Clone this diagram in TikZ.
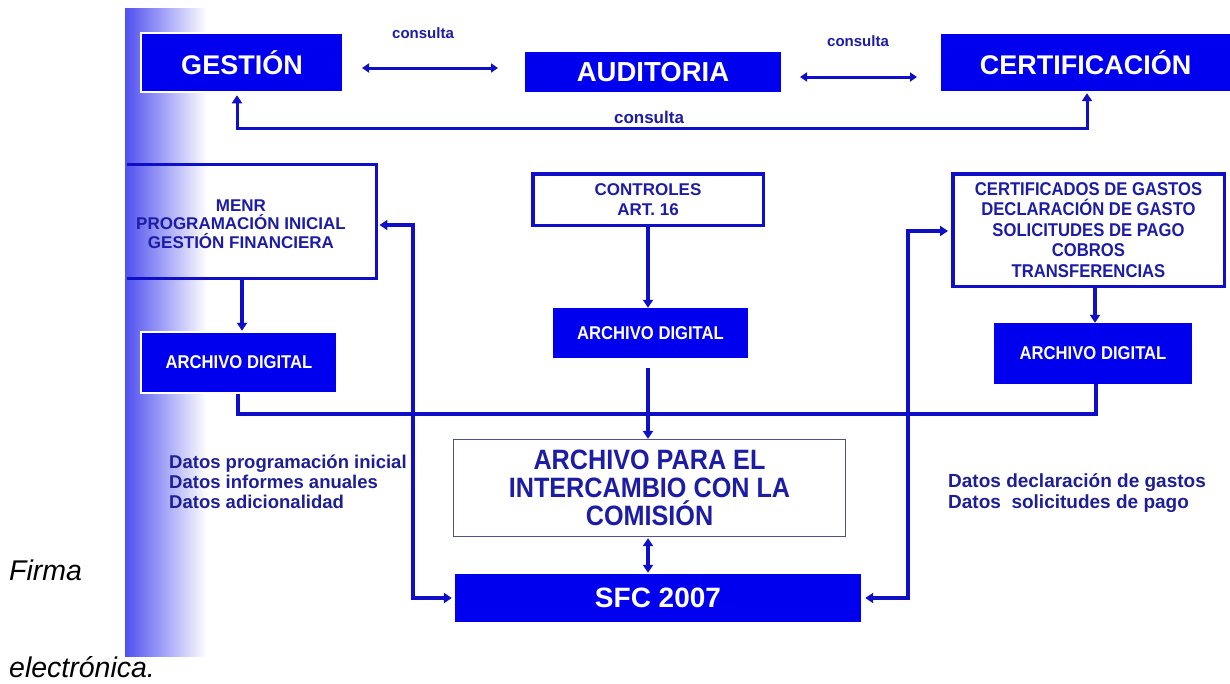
\documentclass[tikz,border=0pt]{standalone}
\usepackage{fontspec}
\setmainfont{Liberation Sans}
\newfontfamily\nsf[FakeStretch=0.9]{Liberation Sans}
\usetikzlibrary{arrows.meta,calc}
\definecolor{boxblue}{RGB}{0,0,238}
\definecolor{lineblue}{RGB}{15,15,200}
\definecolor{txtblue}{RGB}{28,28,165}
\definecolor{datblue}{RGB}{30,30,150}
\definecolor{stripblue}{RGB}{80,80,240}
\definecolor{thinframe}{RGB}{80,80,140}
\begin{document}
\begin{tikzpicture}[x=1pt,y=-1pt,
  bluebox/.style={fill=boxblue,draw=none,text=white,inner sep=0pt},
  framed/.style={draw=white,line width=2.5pt},
  whitebox/.style={fill=white,draw=lineblue,line width=3.5pt,text=txtblue,inner sep=0pt,align=center},
  conn/.style={draw=lineblue,line width=3.5pt,-{Triangle[length=8pt,width=10pt]}},
  dconn/.style={draw=lineblue,line width=3.5pt,{Triangle[length=8pt,width=10pt]}-{Triangle[length=8pt,width=10pt]}},
  tconn/.style={draw=lineblue,line width=3pt,{Triangle[length=7pt,width=9pt]}-{Triangle[length=7pt,width=9pt]}},
  bus/.style={draw=lineblue,line width=3.5pt},
  lbl/.style={text=txtblue,font=\bfseries\fontsize{15}{18}\selectfont,inner sep=0pt},
  datos/.style={text=datblue,font=\bfseries\fontsize{18.5}{20}\selectfont,inner sep=0pt,anchor=base west},
  firma/.style={anchor=base west,inner sep=0pt,font=\itshape\fontsize{28.5}{32}\selectfont}
]
\useasboundingbox (0,0) rectangle (1230,683);
\fill[white] (0,0) rectangle (1230,683);
% gradient strip
\shade[left color=stripblue,right color=white] (125,8) rectangle (207,656);

% top row
\node[bluebox,framed,minimum width=202pt,minimum height=59pt,font=\bfseries\fontsize{27}{30}\selectfont] (ges) at (242,62.5) {GESTIÓN};
\node[bluebox,minimum width=256pt,minimum height=40pt,font=\bfseries\fontsize{27.5}{30}\selectfont] (aud) at (653,72) {AUDITORIA};
\node[bluebox,minimum width=289pt,minimum height=57pt,font=\bfseries\fontsize{27}{30}\selectfont] (cert) at (1085.5,62.5) {CERTIFICACIÓN};

\coordinate (a1) at (362,68);
\coordinate (a2) at (498,68);
\coordinate (a3) at (800,77);
\coordinate (a4) at (917,77);
\draw[tconn] (a1) -- (a2);
\draw[tconn] (a3) -- (a4);
\node[lbl] (c1) at (423,33) {consulta};
\node[lbl] (c2) at (858,41) {consulta};

\coordinate (topbus) at (0,128);
\draw[dconn,line width=3pt,shorten <=2pt,shorten >=2pt] ([xshift=-5pt]ges.south) |- ([xshift=1.5pt]cert.south |- topbus) -- ([xshift=1.5pt]cert.south);
\node[lbl,font=\bfseries\fontsize{17}{20}\selectfont] (c3) at (649,117) {consulta};

% MENR box (left side hidden)
\node[minimum width=249.5pt,minimum height=113.5pt,inner sep=0pt] (menr) at (251.5,221.5) {};
\draw[lineblue,line width=3.5pt] (menr.north west) -- (menr.north east) -- (menr.south east) -- (menr.south west);
\node[text=txtblue,align=center,inner sep=0pt,font=\bfseries\fontsize{17}{18.5}\selectfont] (menrt) at (241,224) {MENR\\PROGRAMACIÓN INICIAL\\GESTIÓN FINANCIERA};

\node[whitebox,minimum width=230.5pt,minimum height=51.5pt,font=\bfseries\fontsize{17}{20}\selectfont] (ctrl) at (648,199.5) {CONTROLES\\ART. 16};
\node[whitebox,minimum width=271.5pt,minimum height=112.5pt,font=\nsf\bfseries\fontsize{18.5}{20.5}\selectfont] (certs) at (1088.5,230) {CERTIFICADOS DE GASTOS\\DECLARACIÓN DE GASTO\\SOLICITUDES DE PAGO\\COBROS\\TRANSFERENCIAS};

% archivos digitales
\node[bluebox,framed,minimum width=196pt,minimum height=61pt,font=\nsf\bfseries\fontsize{18.5}{21}\selectfont] (adl) at (239,362.5) {ARCHIVO DIGITAL};
\node[bluebox,minimum width=195pt,minimum height=50pt,font=\nsf\bfseries\fontsize{18.5}{21}\selectfont] (adm) at (650.5,333) {ARCHIVO DIGITAL};
\node[bluebox,minimum width=198pt,minimum height=61pt,font=\nsf\bfseries\fontsize{18.5}{21}\selectfont] (adr) at (1093,353.5) {ARCHIVO DIGITAL};

\draw[conn] (menr.south -| ges.south) -- (adl.north -| ges.south);
\draw[conn] (ctrl.south) -- (ctrl.south |- adm.north);
\draw[conn] ([xshift=2pt]adr.north |- certs.south) -- ([xshift=2pt]adr.north);

% bus
\coordinate (bus) at (0,414);
\draw[bus] ([xshift=-1pt]adl.south) |- ([xshift=3pt]adr.south |- bus) -- ([xshift=3pt]adr.south);

% archivo para el intercambio
\node[fill=white,draw=thinframe,line width=1.3pt,minimum width=392pt,minimum height=97pt,inner sep=0pt,align=center,text=txtblue,font=\nsf\bfseries\fontsize{28}{28.3}\selectfont] (arch) at (649.5,488) {ARCHIVO PARA EL\\INTERCAMBIO CON LA\\COMISIÓN};
\node[bluebox,minimum width=406pt,minimum height=48pt,font=\bfseries\fontsize{28}{30}\selectfont] (sfc) at (658,598) {SFC 2007};

\draw[conn] ([yshift=-10pt]ctrl.south |- adm.south) -- (ctrl.south |- arch.north);
\draw[dconn,shorten <=1pt,shorten >=1pt] (ctrl.south |- arch.south) -- (ctrl.south |- sfc.north);

% long arrows
\coordinate (lv) at (413,0);
\coordinate (rv) at (908,231);
\draw[dconn,shorten <=3pt,shorten >=3pt] ([yshift=-3.5pt]menr.east) -| (lv |- sfc.west) -- (sfc.west);
\draw[dconn,shorten <=4pt,shorten >=3pt] (sfc.east) -| (rv) -- (rv -| certs.west);

% data notes
\node[datos] (dl1) at (169,468) {Datos programación inicial};
\node[datos] (dl2) at (169,488) {Datos informes anuales};
\node[datos] (dl3) at (169,508) {Datos adicionalidad};
\node[datos,font=\bfseries\fontsize{19}{21}\selectfont] (dr1) at (948,487.5) {Datos declaración de gastos};
\node[datos,font=\bfseries\fontsize{19}{21}\selectfont] (dr2) at (948,508) {Datos\ \ solicitudes de pago};

% firma
\node[firma] (f1) at (9,580) {Firma};
\node[firma] (f2) at (9,677) {electrónica.};
\end{tikzpicture}
\end{document}
